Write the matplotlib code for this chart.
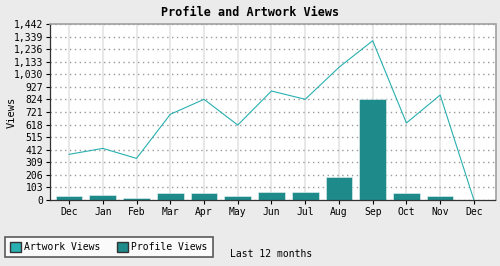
import numpy as np
import matplotlib
matplotlib.use('Agg')
import matplotlib.pyplot as plt
from matplotlib.patches import Patch
from matplotlib.ticker import FuncFormatter

# monthly view counts
months = ['Dec', 'Jan', 'Feb', 'Mar', 'Apr', 'May', 'Jun',
          'Jul', 'Aug', 'Sep', 'Oct', 'Nov', 'Dec']
artwork_views = [374, 423, 341, 702, 825, 614, 893, 825, 1087, 1305, 631, 860, 0]
profile_views = [35, 43, 20, 55, 55, 35, 63, 63, 191, 828, 55, 35, 0]
y_ticks = [0, 103, 206, 309, 412, 515, 618, 721, 824, 927, 1030, 1133, 1236, 1339, 1442]

line_color = '#2ab0b0'
bar_color = '#1e8a8a'
bg = '#ebebeb'

plt.rcParams['font.family'] = ['DejaVu Sans Mono']

fig = plt.figure(figsize=(5, 2.66), dpi=100, facecolor=bg)
ax = fig.add_axes([49.5 / 500, 1 - 200 / 266, 446 / 500, 176 / 266])
ax.set_facecolor('white')

x = np.arange(len(months))
ax.bar(x, profile_views, width=0.79, color=bar_color, edgecolor='#eaf4f4',
       linewidth=0.4, zorder=2)
ax.plot(x, artwork_views, color=line_color, linewidth=0.8, zorder=3)

ax.set_xlim(-0.58, len(months) - 1 + 0.64)
ax.set_ylim(0, 1442)
ax.set_xticks(x)
ax.set_xticklabels(months, fontsize=7)
ax.set_yticks(y_ticks)
ax.yaxis.set_major_formatter(FuncFormatter(lambda v, p: f'{int(v):,}'))
ax.tick_params(axis='y', labelsize=7, length=3, width=0.8, pad=1.5)
ax.tick_params(axis='x', length=3, width=0.8, pad=2)

ax.xaxis.grid(True, color='#e4e4e4', linestyle='-', linewidth=1.2)
ax.yaxis.grid(True, color='#999999', linestyle=(0, (1, 2.5)), linewidth=1)
ax.set_axisbelow(True)

for s in ['top', 'right']:
    ax.spines[s].set_color('#a0a0a0')
    ax.spines[s].set_linewidth(1.2)
for s in ['left', 'bottom']:
    ax.spines[s].set_color('#333333')
    ax.spines[s].set_linewidth(0.9)

fig.text(12 / 500, 1 - 112 / 266, 'Views', rotation=90, ha='center', va='center',
         fontsize=7.5)
fig.text(0.5, 1 - 12 / 266, 'Profile and Artwork Views', ha='center', va='center',
         fontsize=8.5, fontweight='bold')
fig.text(271 / 500, 1 - 254 / 266, 'Last 12 months', ha='center', va='center',
         fontsize=7)

handles = [Patch(facecolor=line_color, edgecolor='#333333', label='Artwork Views'),
           Patch(facecolor=bar_color, edgecolor='#333333', label='Profile Views')]
leg = fig.legend(handles=handles, loc='lower left', bbox_to_anchor=(5 / 500, 9 / 266),
                 ncol=2, fontsize=7, frameon=True, fancybox=False,
                 handlelength=1.1, handleheight=1.1, handletextpad=0.4,
                 columnspacing=1.65, borderpad=0.5, borderaxespad=0)
leg.get_frame().set_edgecolor('#333333')
leg.get_frame().set_linewidth(1.2)

fig.savefig('out.png', dpi=100, facecolor=bg)
